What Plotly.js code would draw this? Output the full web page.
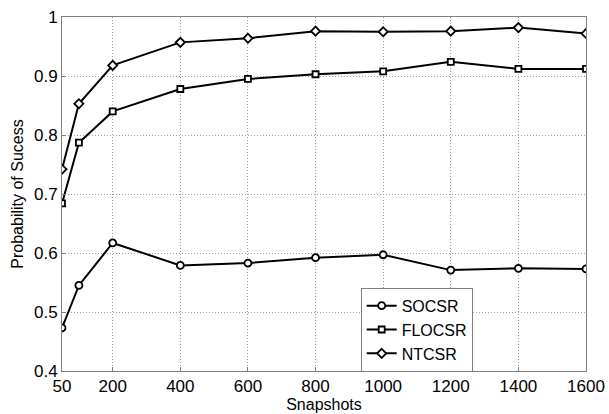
<!DOCTYPE html>
<html>
<head>
<meta charset="utf-8">
<script src="https://cdn.plot.ly/plotly-3.0.1.min.js"></script>
<style>html,body{margin:0;padding:0;background:#fff;}#chart{width:609px;height:414px;}</style>
</head>
<body>
<div id="chart"></div>
<script>
const snapshots = [50, 100, 200, 400, 600, 800, 1000, 1200, 1400, 1600];
const socsr  = [0.473, 0.545, 0.617, 0.579, 0.583, 0.592, 0.597, 0.571, 0.574, 0.573];
const flocsr = [0.684, 0.787, 0.840, 0.878, 0.895, 0.903, 0.908, 0.924, 0.912, 0.912];
const ntcsr  = [0.742, 0.853, 0.918, 0.957, 0.964, 0.976, 0.975, 0.976, 0.982, 0.972];
const xTickVals = [50, 200, 400, 600, 800, 1000, 1200, 1400, 1600];
const yTickVals = [0.4, 0.5, 0.6, 0.7, 0.8, 0.9, 1.0];
const yTickText = ['0.4', '0.5', '0.6', '0.7', '0.8', '0.9', '1'];

const lineStyle = {color: '#000', width: 2};
function mk(sym, size) {
  return {symbol: sym, size: size, color: '#fff', line: {color: '#000', width: 1.8}};
}
const traces = [
  {x: snapshots, y: socsr, name: 'SOCSR', mode: 'lines+markers', line: lineStyle, marker: mk('circle', 7)},
  {x: snapshots, y: flocsr, name: 'FLOCSR', mode: 'lines+markers', line: lineStyle, marker: mk('square', 6)},
  {x: snapshots, y: ntcsr, name: 'NTCSR', mode: 'lines+markers', line: lineStyle, marker: mk('diamond', 7)}
];
const axisCommon = {
  showline: true, linecolor: '#808080', linewidth: 1, mirror: true,
  showgrid: true, gridcolor: '#a0a0a0', griddash: '1px,2px', gridwidth: 1,
  zeroline: false, ticks: 'inside', ticklen: 4, tickcolor: '#808080',
  tickfont: {family: 'Liberation Sans, Arial, sans-serif', size: 17, color: '#000'}
};
const layout = {
  width: 609, height: 414,
  margin: {l: 62, r: 23, t: 17, b: 43},
  paper_bgcolor: '#fff', plot_bgcolor: '#fff',
  showlegend: true,
  legend: {
    x: 0.570, y: 0.235, xanchor: 'left', yanchor: 'top',
    bgcolor: '#fff', bordercolor: '#808080', borderwidth: 1,
    font: {family: 'Liberation Sans, Arial, sans-serif', size: 16, color: '#000'},
    tracegroupgap: 0, itemwidth: 30
  },
  xaxis: Object.assign({}, axisCommon, {
    range: [50, 1600], tickmode: 'array', tickvals: xTickVals,
    title: {text: 'Snapshots', font: {family: 'Liberation Sans, Arial, sans-serif', size: 16, color: '#000'}, standoff: 0}
  }),
  yaxis: Object.assign({}, axisCommon, {
    range: [0.4, 1.0], tickmode: 'array', tickvals: yTickVals, ticktext: yTickText,
    title: {text: 'Probability of Sucess', font: {family: 'Liberation Sans, Arial, sans-serif', size: 16, color: '#000'}, standoff: 6}
  })
};
Plotly.newPlot('chart', traces, layout, {displayModeBar: false, staticPlot: true});
</script>
</body>
</html>
